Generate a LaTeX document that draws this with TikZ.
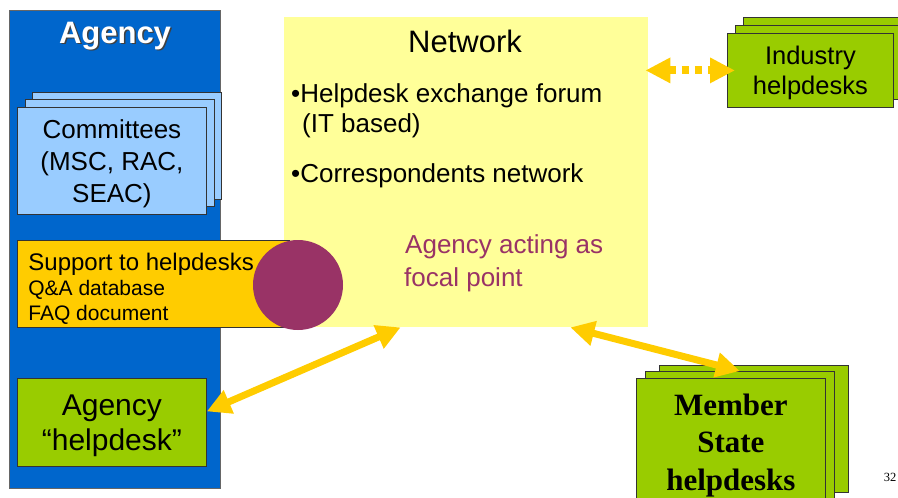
\documentclass[tikz,border=0pt]{standalone}
\usepackage{fontspec}
\setmainfont{Liberation Sans}
\newfontfamily\msfont{Liberation Serif}
\usetikzlibrary{arrows.meta,calc}
\definecolor{agblue}{HTML}{0066CC}
\definecolor{combl}{HTML}{99CCFF}
\definecolor{netyel}{HTML}{FFFF99}
\definecolor{supyel}{HTML}{FFCC00}
\definecolor{hdgreen}{HTML}{99CC00}
\definecolor{focal}{HTML}{993366}
\definecolor{arryel}{HTML}{FFCC00}

\begin{document}
\begin{tikzpicture}
    [x=1pt,y=-1pt,
card/.style={rectangle,draw=black!80,line width=0.8pt,anchor=north west,inner sep=0pt},
committee/.style={card,fill=combl,minimum width=189pt,minimum height=107pt},
industry/.style={card,fill=hdgreen,minimum width=166pt,minimum height=74pt},
member/.style={card,fill=hdgreen,minimum width=189pt,minimum height=127pt},
txt/.style={inner sep=0pt,anchor=base west,font=\fontsize{26}{32}\selectfont},
link/.style={draw=arryel,line width=7pt,{Triangle[length=24pt,width=24pt]}-{Triangle[length=24pt,width=24pt]}},
dotlink/.style={draw=arryel,line width=8pt,dash pattern=on 7pt off 6pt,{Triangle[length=25pt,width=24pt]}-{Triangle[length=25pt,width=24pt]}}
]
  \useasboundingbox (0,0) rectangle (898,498);
  \clip (0,0) rectangle (898,498);
  \node[card,draw=black!60,fill=agblue,minimum width=211pt,minimum height=478pt] (agency) at (9,10) {};
  \node[font=\bfseries\fontsize{31}{36}\selectfont,text=black!75] (agshadow) at (116.5,37.5) {Agency};
  \node[font=\bfseries\fontsize{31}{36}\selectfont,text=white] (agtitle) at (115,36) {Agency};
  \node[committee] (comm3) at (32,92) {};
  \node[committee] (comm2) at (25,99) {};
  \node[committee,align=center,font=\fontsize{26}{32}\selectfont,text depth=0pt] (comm) at (17,107)
    {Committees\\(MSC, RAC,\\SEAC)};
  \node[rectangle,fill=netyel,minimum width=364pt,minimum height=310pt,anchor=north west,inner sep=0pt] (net) at (284,17) {};
  \node[txt,anchor=base,font=\fontsize{31}{36}\selectfont] (nettitle) at (465,52) {Network};
  \node[txt] (forum) at (291,102) {•Helpdesk exchange forum};
  \node[txt] (itbased) at (302,132) {(IT based)};
  \node[txt] (corr) at (291,182) {•Correspondents network};
  \node[txt,text=focal] (acting) at (405,253) {Agency acting as};
  \node[txt,text=focal] (point) at (404,286) {focal point};
  \node[card,fill=supyel,text width=250pt,inner xsep=11pt,minimum height=87pt,align=left,
        font=\fontsize{21}{25}\selectfont] (sup) at (17,240)
    {\spaceskip=0pt \fontsize{24}{25}\selectfont\rule{0pt}{28pt}Support to helpdesks\\
     \fontsize{21}{25}\selectfont Q\&A database\\FAQ document};
  \node[circle,fill=focal,minimum size=90pt,inner sep=0pt] (fp) at (298,285) {};
  \node[card,fill=hdgreen,minimum width=189pt,minimum height=88pt,align=center,font=\fontsize{30}{35}\selectfont,text depth=0pt] (ahd) at (17,378)
    {Agency\\“helpdesk”};
  \node[industry] (ind3) at (743,17) {};
  \node[industry] (ind2) at (735,25) {};
  \node[industry,align=center,font=\fontsize{25.5}{30}\selectfont,text depth=0pt] (ind) at (727,33)
    {Industry\\helpdesks};
  \node[member] (ms3) at (659,365) {};
  \node[member] (ms2) at (645,371) {};
  \node[member,align=center,font=\msfont\bfseries\fontsize{31}{37.5}\selectfont,text depth=0pt] (ms) at (636,378)
    {Member\\State\\helpdesks};
  \draw[link] ([yshift=11pt]ahd.east) -- ($(net.south west)!0.32!(net.south east)$);
  \draw[link] ($(net.south west)!0.786!(net.south east)$) -- (ms2.north);
  \draw[dotlink,shorten <=-3pt,shorten >=-8pt] (net.east |- ind.west) -- (ind.west);
  \node[font=\msfont\fontsize{12.5}{14}\selectfont] (pg) at (890,477) {32};
\end{tikzpicture}
\end{document}
